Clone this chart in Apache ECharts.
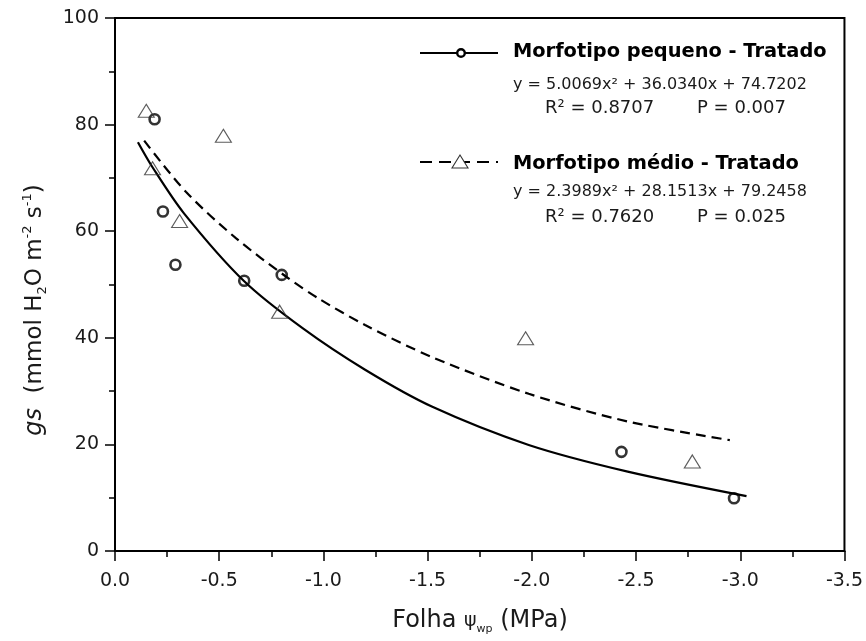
<!DOCTYPE html>
<html>
<head>
<meta charset="utf-8">
<script src="https://cdn.jsdelivr.net/npm/echarts@6/dist/echarts.min.js"></script>
<style>html,body{margin:0;padding:0;background:#fff;}#c{width:866px;height:641px;}</style>
</head>
<body>
<div id="c"></div>
<script>
// Observed points
var pequenoX = [-0.19, -0.23, -0.29, -0.62, -0.80, -2.43, -2.97];
var pequenoY = [81.0, 63.7, 53.7, 50.7, 51.8, 18.6, 9.9];
var medioX = [-0.15, -0.18, -0.31, -0.52, -0.79, -1.97, -2.77];
var medioY = [82.6, 71.8, 61.9, 77.9, 44.9, 39.9, 16.8];
// Fitted curves
var fitPequenoX = [-0.11, -0.18, -0.33, -0.62, -0.90, -1.20, -1.52, -1.985, -2.46, -3.03];
var fitPequenoY = [76.7, 72.0, 63.4, 50.6, 41.8, 34.0, 27.1, 19.9, 14.9, 10.3];
var fitMedioX = [-0.14, -0.34, -0.58, -0.82, -0.98, -1.20, -1.52, -1.985, -2.46, -2.95];
var fitMedioY = [77.0, 67.4, 58.7, 51.5, 47.3, 42.4, 36.4, 29.5, 24.3, 20.8];
// Texts
var legendNames = ['Morfotipo pequeno - Tratado', 'Morfotipo médio - Tratado'];
var equations = ['y = 5.0069x² + 36.0340x + 74.7202', 'y = 2.3989x² + 28.1513x + 79.2458'];
var r2Texts = ['R² = 0.8707', 'R² = 0.7620'];
var pTexts = ['P = 0.007', 'P = 0.025'];

function zip(a, b) { return a.map(function (v, i) { return [v, b[i]]; }); }

var FONT = 'DejaVu Sans';
var chart = echarts.init(document.getElementById('c'), null, { renderer: 'canvas' });

var axisCommon = {
  axisLine: { show: true, onZero: false, lineStyle: { color: '#000', width: 2 } },
  axisTick: { show: true, inside: false, length: 10, lineStyle: { color: '#000', width: 1.5 } },
  minorTick: { show: true, splitNumber: 2, length: 6, lineStyle: { color: '#000', width: 1.5 } },
  splitLine: { show: false },
  minorSplitLine: { show: false }
};

var option = {
  backgroundColor: '#fff',
  animation: false,
  grid: { left: 115, right: 20, top: 18, bottom: 90, show: true, borderColor: '#000', borderWidth: 2, backgroundColor: 'transparent' },
  xAxis: Object.assign({
    type: 'value', min: -3.5, max: 0, interval: 0.5, inverse: true,
    axisLabel: { color: '#1a1a1a', fontFamily: FONT, fontSize: 19, margin: 21,
      formatter: function (v) { return (Math.abs(v) < 1e-9 ? 0 : v).toFixed(1); } }
  }, axisCommon),
  yAxis: Object.assign({
    type: 'value', min: 0, max: 100, interval: 20,
    axisLabel: { color: '#1a1a1a', fontFamily: FONT, fontSize: 19, margin: 16 }
  }, axisCommon),
  series: [
    {
      type: 'line', data: zip(fitPequenoX, fitPequenoY), smooth: 0.3, showSymbol: false,
      lineStyle: { color: '#000', width: 2.2 }, z: 2
    },
    {
      type: 'line', data: zip(fitMedioX, fitMedioY), smooth: 0.3, showSymbol: false,
      lineStyle: { color: '#000', width: 2.2, type: [10, 6] }, z: 2
    },
    {
      type: 'scatter', data: zip(pequenoX, pequenoY), symbol: 'circle', symbolSize: 10,
      itemStyle: { color: 'transparent', borderColor: '#000', borderWidth: 2.6 }, z: 3
    },
    {
      type: 'scatter', data: zip(medioX, medioY), symbol: 'triangle', symbolSize: [16, 13],
      itemStyle: { color: 'transparent', borderColor: '#333', borderWidth: 1.1 }, z: 3
    }
  ],
  graphic: [
    // legend entry 1
    { type: 'line', shape: { x1: 420, y1: 53, x2: 498, y2: 53 }, style: { stroke: '#000', lineWidth: 2 } },
    { type: 'circle', shape: { cx: 461, cy: 53, r: 3.8 }, style: { fill: '#fff', stroke: '#000', lineWidth: 2.4 } },
    { type: 'text', x: 513, y: 51.5, style: { text: legendNames[0], fontFamily: FONT, fontWeight: 'bold', fontSize: 19.4, fill: '#000', verticalAlign: 'middle' } },
    { type: 'text', x: 513, y: 84.5, style: { text: equations[0], fontFamily: FONT, fontSize: 16, fill: '#1a1a1a', verticalAlign: 'middle' } },
    { type: 'text', x: 545, y: 108, style: { text: r2Texts[0], fontFamily: FONT, fontSize: 18, fill: '#1a1a1a', verticalAlign: 'middle' } },
    { type: 'text', x: 697, y: 108, style: { text: pTexts[0], fontFamily: FONT, fontSize: 18, fill: '#1a1a1a', verticalAlign: 'middle' } },
    // legend entry 2
    { type: 'line', shape: { x1: 420, y1: 162, x2: 498, y2: 162 }, style: { stroke: '#000', lineWidth: 2, lineDash: [12, 7] } },
    { type: 'polygon', shape: { points: [[460, 155], [468, 168], [452, 168]] }, style: { fill: '#fff', stroke: '#333', lineWidth: 1.1 } },
    { type: 'text', x: 513, y: 163.5, style: { text: legendNames[1], fontFamily: FONT, fontWeight: 'bold', fontSize: 19.4, fill: '#000', verticalAlign: 'middle' } },
    { type: 'text', x: 513, y: 191.5, style: { text: equations[1], fontFamily: FONT, fontSize: 16, fill: '#1a1a1a', verticalAlign: 'middle' } },
    { type: 'text', x: 545, y: 217, style: { text: r2Texts[1], fontFamily: FONT, fontSize: 18, fill: '#1a1a1a', verticalAlign: 'middle' } },
    { type: 'text', x: 697, y: 217, style: { text: pTexts[1], fontFamily: FONT, fontSize: 18, fill: '#1a1a1a', verticalAlign: 'middle' } },
    // y axis title
    { type: 'text', x: 35, y: 310, rotation: Math.PI / 2,
      style: {
        text: '{i|gs}{n|  (mmol H}{sub|2}{n|O m}{sup|-2}{n| s}{sup|-1}{n|)}',
        align: 'center', verticalAlign: 'middle', fill: '#1a1a1a',
        rich: {
          i: { fontFamily: FONT, fontSize: 24, fontStyle: 'italic', lineHeight: 28, fill: '#1a1a1a' },
          n: { fontFamily: FONT, fontSize: 23, lineHeight: 28, fill: '#1a1a1a' },
          sub: { fontFamily: FONT, fontSize: 13, lineHeight: 12, verticalAlign: 'bottom', fill: '#1a1a1a' },
          sup: { fontFamily: FONT, fontSize: 13, lineHeight: 12, verticalAlign: 'top', fill: '#1a1a1a' }
        }
      } },
    // x axis title
    { type: 'text', x: 480, y: 621,
      style: {
        text: '{n|Folha }{psi|ψ}{sub|wp}{n| (MPa)}',
        align: 'center', verticalAlign: 'middle', fill: '#1a1a1a',
        rich: {
          n: { fontFamily: FONT, fontSize: 24, lineHeight: 28, fill: '#1a1a1a' },
          psi: { fontFamily: FONT, fontSize: 19, lineHeight: 28, fill: '#1a1a1a' },
          sub: { fontFamily: FONT, fontSize: 11, lineHeight: 12, verticalAlign: 'bottom', fill: '#1a1a1a' }
        }
      } }
  ]
};
chart.setOption(option);
</script>
</body>
</html>
